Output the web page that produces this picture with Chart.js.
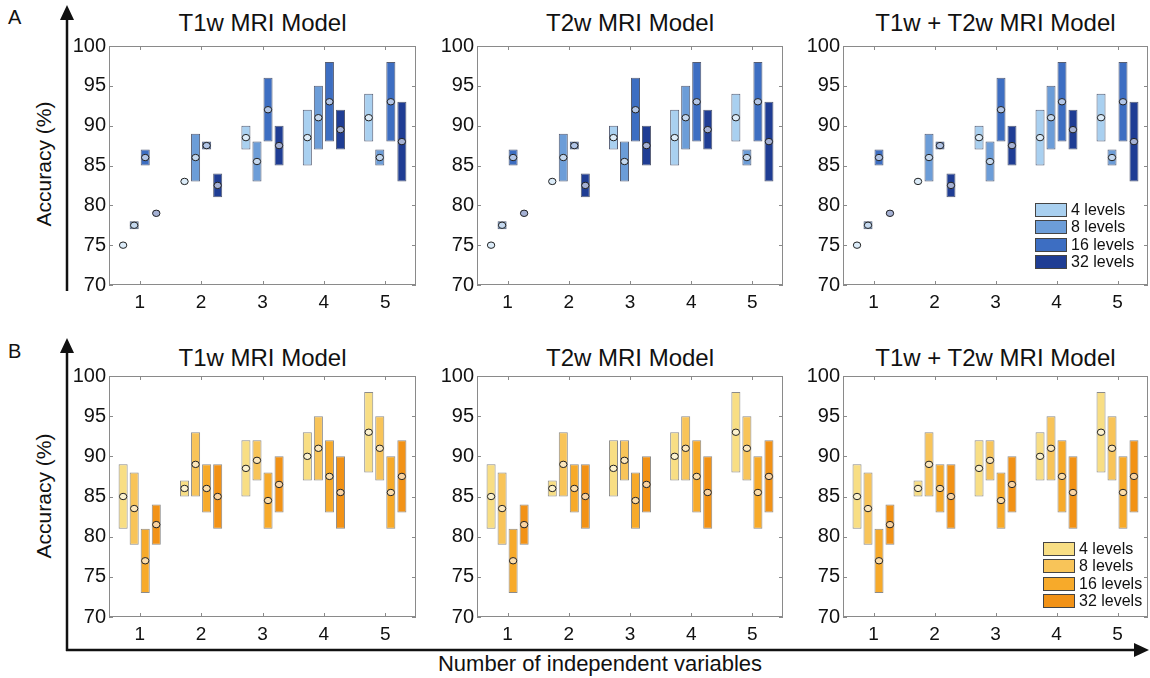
<!DOCTYPE html>
<html lang="en">
<head>
<meta charset="UTF-8">
<title>Accuracy vs number of independent variables</title>
<script src="https://cdn.jsdelivr.net/npm/chart.js"></script>
<style>
  body { margin: 0; width: 1150px; height: 678px; background: #fff; position: relative; overflow: hidden;
         font-family: "Liberation Sans", Arial, sans-serif; color: #111; }
  .panel { position: absolute; }
  .title { position: absolute; font-size: 24px; line-height: 28px; text-align: center; white-space: nowrap; }
  .letter { position: absolute; font-size: 20px; }
  .ylab { position: absolute; font-size: 21px; white-space: nowrap; transform: translate(-50%, -50%) rotate(-90deg); }
  .xlab { position: absolute; font-size: 22px; white-space: nowrap; transform: translateX(-50%); }
  .legend { position: absolute; font-size: 16px; }
  .legend div { height: 17.5px; display: flex; align-items: center; }
  .legend span.box { display: inline-block; width: 30px; height: 12px; border: 1px solid #444; margin-right: 4px; }
  svg { position: absolute; left: 0; top: 0; }
</style>
</head>
<body>

<svg width="1150" height="678">
  <g stroke="#111" stroke-width="2.5" fill="none">
    <line x1="67" y1="291" x2="67" y2="16"/>
    <line x1="67" y1="651" x2="67" y2="350"/>
    <line x1="66" y1="650" x2="1138" y2="650"/>
  </g>
  <g fill="#111">
    <polygon points="67,5 60,20 74,20"/>
    <polygon points="67,338 60,353 74,353"/>
    <polygon points="1149,650 1134,643 1134,657"/>
  </g>
</svg>

<div class="letter" style="left:8px; top:6px;">A</div>
<div class="letter" style="left:8px; top:340px;">B</div>
<div class="ylab" style="left:44px; top:164px;">Accuracy (%)</div>
<div class="ylab" style="left:44px; top:496px;">Accuracy (%)</div>
<div class="xlab" style="left:600px; top:651px;">Number of independent variables</div>

<script>
  // x categories and series names
  const categories = ['1', '2', '3', '4', '5'];
  const levelNames = ['4 levels', '8 levels', '16 levels', '32 levels'];
  const yTicks = [70, 75, 80, 85, 90, 95, 100];

  // Row A (blue): [min, max] ranges and means per number of variables
  const aRange4  = [[75, 75], [83, 83], [87, 90], [85, 92], [88, 94]];
  const aRange8  = [[77, 78], [83, 89], [83, 88], [87, 95], [85, 87]];
  const aRange16 = [[85, 87], [87, 88], [88, 96], [88, 98], [88, 98]];
  const aRange32 = [[79, 79], [81, 84], [85, 90], [87, 92], [83, 93]];
  const aMean4  = [75, 83, 88.5, 88.5, 91];
  const aMean8  = [77.5, 86, 85.5, 91, 86];
  const aMean16 = [86, 87.5, 92, 93, 93];
  const aMean32 = [79, 82.5, 87.5, 89.5, 88];

  // Row B (orange)
  const bRange4  = [[81, 89], [85, 87], [85, 92], [87, 93], [88, 98]];
  const bRange8  = [[79, 88], [85, 93], [87, 92], [87, 95], [87, 95]];
  const bRange16 = [[73, 81], [83, 89], [81, 88], [83, 92], [81, 90]];
  const bRange32 = [[79, 84], [81, 89], [83, 90], [81, 90], [83, 92]];
  const bMean4  = [85, 86, 88.5, 90, 93];
  const bMean8  = [83.5, 89, 89.5, 91, 91];
  const bMean16 = [77, 86, 84.5, 87.5, 85.5];
  const bMean32 = [81.5, 85, 86.5, 85.5, 87.5];

  const blues   = ['#a9d0f0', '#6c9dd8', '#3d6ec2', '#1f3d94'];
  const oranges = ['#f8de84', '#f8c459', '#f7aa2a', '#f29216'];

  const titles = ['T1w MRI Model', 'T2w MRI Model', 'T1w + T2w MRI Model'];
  const cols = [{ left: 109, w: 307 }, { left: 477, w: 306 }, { left: 843, w: 305 }];
  const rows = [
    { top: 43, h: 242, titleY: 23, ranges: [aRange4, aRange8, aRange16, aRange32], means: [aMean4, aMean8, aMean16, aMean32], colors: blues, border: 'rgba(30,40,70,0.75)', legendX: 1035, legendY: 201 },
    { top: 373, h: 244, titleY: 358, ranges: [bRange4, bRange8, bRange16, bRange32], means: [bMean4, bMean8, bMean16, bMean32], colors: oranges, border: 'rgba(90,90,90,0.7)', legendX: 1043, legendY: 540 }
  ];

  // frame with inward ticks, like the original figure
  const boxPlugin = {
    id: 'box',
    afterDatasetsDraw(chart) {
      const { ctx, chartArea: a, scales } = chart;
      ctx.save();
      ctx.strokeStyle = '#8a8a8a';
      ctx.lineWidth = 1;
      ctx.strokeRect(a.left + 0.5, a.top + 0.5, a.width - 1, a.height - 1);
      ctx.beginPath();
      scales.x.ticks.forEach((t, i) => {
        const x = Math.round(scales.x.getPixelForTick(i)) + 0.5;
        ctx.moveTo(x, a.bottom); ctx.lineTo(x, a.bottom - 4);
        ctx.moveTo(x, a.top); ctx.lineTo(x, a.top + 4);
      });
      scales.y.ticks.forEach(t => {
        const y = Math.round(scales.y.getPixelForValue(t.value)) + 0.5;
        ctx.moveTo(a.left, y); ctx.lineTo(a.left + 4, y);
        ctx.moveTo(a.right, y); ctx.lineTo(a.right - 4, y);
      });
      ctx.stroke();
      ctx.restore();
    }
  };

  // mean markers placed on each bar
  const meanPlugin = {
    id: 'means',
    afterDatasetsDraw(chart) {
      const { ctx } = chart;
      const means = chart.options.plugins.means.values;
      ctx.save();
      chart.data.datasets.forEach((ds, d) => {
        chart.getDatasetMeta(d).data.forEach((bar, i) => {
          const y = chart.scales.y.getPixelForValue(means[d][i]);
          ctx.beginPath();
          ctx.ellipse(bar.x, y, 3.7, 3.2, 0, 0, Math.PI * 2);
          ctx.fillStyle = ds.backgroundColor;
          ctx.fill();
          ctx.fillStyle = 'rgba(255,255,255,0.6)';
          ctx.fill();
          ctx.strokeStyle = '#222';
          ctx.lineWidth = 1;
          ctx.stroke();
        });
      });
      ctx.restore();
    }
  };

  rows.forEach(row => {
    cols.forEach((col, c) => {
      const t = document.createElement('div');
      t.className = 'title';
      t.style.left = col.left + 'px';
      t.style.width = col.w + 'px';
      t.style.top = (row.titleY - 14) + 'px';
      t.textContent = titles[c];
      document.body.appendChild(t);

      const wrap = document.createElement('div');
      wrap.className = 'panel';
      wrap.style.left = (col.left - 52) + 'px';
      wrap.style.top = (row.top - 12) + 'px';
      wrap.style.width = (52 + col.w + 6) + 'px';
      wrap.style.height = (12 + row.h + 34) + 'px';
      const canvas = document.createElement('canvas');
      wrap.appendChild(canvas);
      document.body.appendChild(wrap);

      new Chart(canvas, {
        type: 'bar',
        data: {
          labels: categories,
          datasets: levelNames.map((name, d) => ({
            label: name,
            data: row.ranges[d],
            backgroundColor: row.colors[d],
            borderColor: row.border,
            borderWidth: 1,
            borderSkipped: false,
            categoryPercentage: 0.72,
            barPercentage: 0.82
          }))
        },
        options: {
          responsive: true,
          maintainAspectRatio: false,
          animation: false,
          layout: { padding: { top: 12, right: 6, left: 0, bottom: 0 } },
          plugins: {
            legend: { display: false },
            tooltip: { enabled: false },
            means: { values: row.means }
          },
          scales: {
            x: {
              offset: true,
              grid: { display: false, drawTicks: false },
              border: { display: false },
              ticks: { color: '#111', font: { size: 19, family: '"Liberation Sans", Arial, sans-serif' }, padding: 6 },
              afterFit: s => { s.height = 34; }
            },
            y: {
              min: yTicks[0],
              max: yTicks[yTicks.length - 1],
              grid: { display: false, drawTicks: false },
              border: { display: false },
              ticks: { stepSize: 5, color: '#111', font: { size: 20, family: '"Liberation Sans", Arial, sans-serif' }, padding: 3 },
              afterFit: s => { s.width = 52; }
            }
          }
        },
        plugins: [boxPlugin, meanPlugin]
      });

      if (c === 2) {
        const lg = document.createElement('div');
        lg.className = 'legend';
        lg.style.left = row.legendX + 'px';
        lg.style.top = row.legendY + 'px';
        levelNames.forEach((name, d) => {
          const item = document.createElement('div');
          item.innerHTML = '<span class="box" style="background:' + row.colors[d] + '"></span>' + name;
          lg.appendChild(item);
        });
        document.body.appendChild(lg);
      }
    });
  });
</script>
</body>
</html>
